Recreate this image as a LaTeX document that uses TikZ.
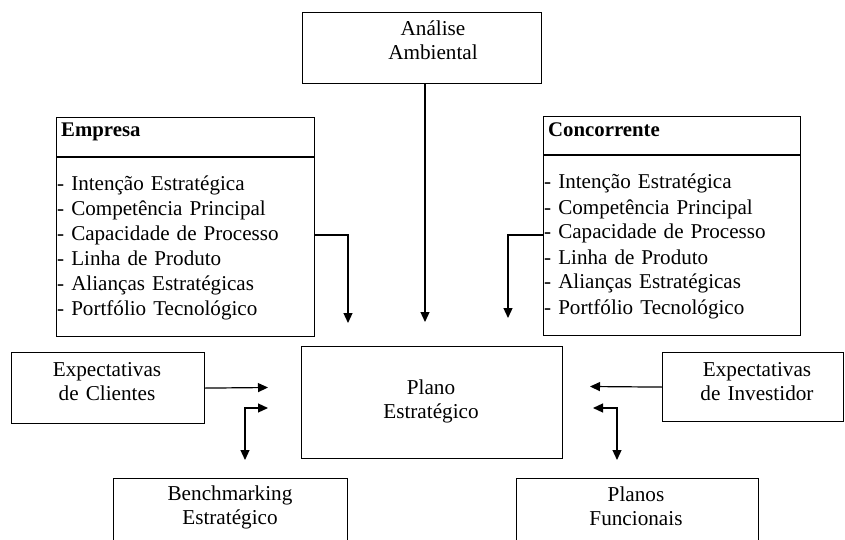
\documentclass[tikz,border=0pt]{standalone}
\usepackage{fontspec}
\setmainfont{Liberation Serif}
\usetikzlibrary{arrows.meta}
\newcommand\lblfont{\fontsize{21.2}{24}\selectfont}
\newcommand\lstfont{\fontsize{21.1}{25}\selectfont}
\newcommand\hdrfont{\fontsize{20.8}{25}\selectfont\bfseries}
\begin{document}
\begin{tikzpicture}[x=1pt,y=-1pt,
  box/.style={draw, line width=1.2pt, inner sep=0pt, anchor=north west},
  lbl/.style={font=\lblfont, text width=230pt, align=center, inner sep=0pt, anchor=base},
  lst/.style={font=\lstfont, text width=250pt, align=left, inner sep=0pt, anchor=base west},
  hdr/.style={font=\hdrfont, inner sep=0pt, anchor=base west},
  link/.style={line width=1.2pt, -{Triangle[length=10pt,width=9pt]}},
  twoway/.style={line width=1.2pt, {Triangle[length=10pt,width=9pt]}-{Triangle[length=10pt,width=9pt]}},
]
\clip (0,0) rectangle (845,540);

% boxes
\node[box, minimum width=239pt, minimum height=71pt] (analise) at (302,12) {};
\node[box, minimum width=258pt, minimum height=219pt] (empresa) at (56,117) {};
\node[box, minimum width=257pt, minimum height=219pt] (concorrente) at (543,116) {};
\node[box, minimum width=261pt, minimum height=112pt] (plano) at (301,346) {};
\node[box, minimum width=193pt, minimum height=71pt] (clientes) at (11,352) {};
\node[box, minimum width=181pt, minimum height=69pt] (investidor) at (662,352) {};
\node[box, minimum width=234pt, minimum height=90pt] (bench) at (113,478) {};
\node[box, minimum width=242pt, minimum height=90pt] (funcionais) at (516,478) {};

% header dividers of the two profile boxes
\draw[line width=1.2pt] (empresa.west |- 0,157) -- (empresa.east |- 0,157);
\draw[line width=1.2pt] (concorrente.west |- 0,155) -- (concorrente.east |- 0,155);

% labels
\node[lbl] (analiseTxt) at (433,36) {Análise\\Ambiental};
\node[lbl] (planoTxt) at (431,394) {Plano\\Estratégico};
\node[lbl] (clientesTxt) at (107,376) {Expectativas\\de Clientes};
\node[lbl] (investidorTxt) at (757,376) {Expectativas\\de Investidor};
\node[lbl] (benchTxt) at (230,500) {Benchmarking\\Estratégico};
\node[lbl] (funcionaisTxt) at (636,501) {Planos\\Funcionais};

\node[hdr] (empresaHdr) at (61,137) {Empresa};
\node[lst] (empresaLst) at (57,190) {- Intenção Estratégica\\- Competência Principal\\- Capacidade de Processo\\- Linha de Produto\\- Alianças Estratégicas\\- Portfólio Tecnológico};
\node[hdr] (concorrenteHdr) at (548,137) {Concorrente};
\node[lst] (concorrenteLst) at (544,189) {- Intenção Estratégica\\- Competência Principal\\- Capacidade de Processo\\- Linha de Produto\\- Alianças Estratégicas\\- Portfólio Tecnológico};

% free ends of the connectors
\coordinate (anTip) at (425,322);
\coordinate (empElbow) at (348,235);
\coordinate (empTip) at (348,323);
\coordinate (conElbow) at (508,235);
\coordinate (conTip) at (508,318);
\coordinate (cliTip) at (268,387.5);
\coordinate (invTip) at (590,386.5);
\coordinate (benchA) at (268,408);
\coordinate (benchB) at (245,460);
\coordinate (funcA) at (593,408);
\coordinate (funcB) at (617,460);

% connectors
\draw[link] (analise.south -| anTip) -- (anTip);
\draw[link] (empresa.east |- empElbow) -- (empElbow) -- (empTip);
\draw[link] (concorrente.west |- conElbow) -- (conElbow) -- (conTip);
\draw[link] (clientes.east) -- (cliTip);
\draw[link] (investidor.west) -- (invTip);
\draw[twoway] (benchA) -| (benchB);
\draw[twoway] (funcA) -| (funcB);
\end{tikzpicture}
\end{document}
